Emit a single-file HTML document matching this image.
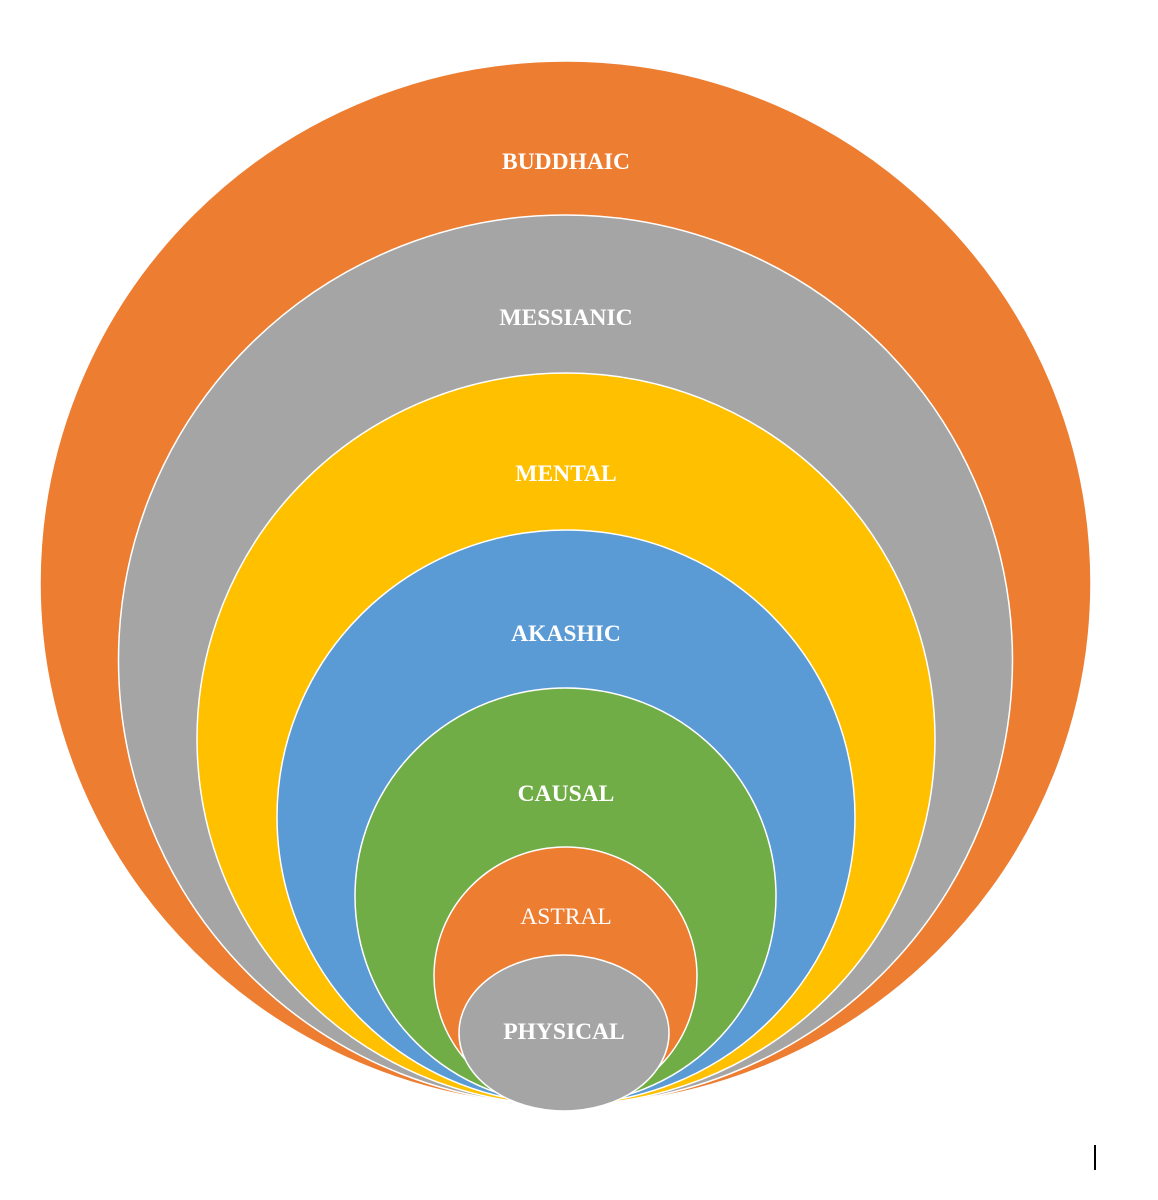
<!DOCTYPE html>
<html><head><meta charset="utf-8"><style>
html,body{margin:0;padding:0;background:#fff;}
svg{display:block}
text{font-family:"Liberation Serif",serif;font-size:23.5px;fill:#fff;text-anchor:middle;font-weight:bold}
</style></head><body>
<svg width="1158" height="1200" viewBox="0 0 1158 1200">
<g stroke="#fff" stroke-width="1.5">
<ellipse cx="565.5" cy="583" rx="525.5" ry="522" fill="#ED7D31"/>
<ellipse cx="565.5" cy="660" rx="447" ry="445" fill="#A5A5A5"/>
<ellipse cx="566" cy="739" rx="369" ry="366" fill="#FFC000"/>
<ellipse cx="566" cy="817" rx="289" ry="287" fill="#5B9BD5"/>
<ellipse cx="565.5" cy="896" rx="210.5" ry="208" fill="#70AD47"/>
<ellipse cx="565.5" cy="976" rx="131.5" ry="129" fill="#ED7D31"/>
<ellipse cx="564" cy="1033" rx="105" ry="78" fill="#A5A5A5"/>
</g>
<text x="566" y="169">BUDDHAIC</text>
<text x="566" y="325">MESSIANIC</text>
<text x="566" y="481">MENTAL</text>
<text x="566" y="641">AKASHIC</text>
<text x="566" y="801">CAUSAL</text>
<text x="566" y="924" style="font-weight:normal">ASTRAL</text>
<text x="564" y="1039">PHYSICAL</text>
<rect x="1094" y="1145" width="2" height="25" fill="#000"/>
</svg>
</body></html>
